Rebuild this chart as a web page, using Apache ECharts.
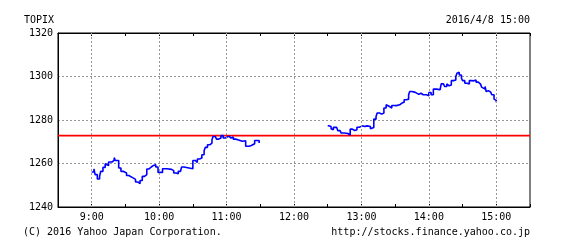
<!DOCTYPE html>
<html><head><meta charset="utf-8">
<script src="https://cdn.jsdelivr.net/npm/echarts@6/dist/echarts.min.js"></script>
<style>html,body{margin:0;padding:0;background:#fff}#c{width:567px;height:247px}</style>
</head><body><div id="c"></div>
<script>
var title = "TOPIX";
var stamp = "2016/4/8 15:00";
var copyright = "(C) 2016 Yahoo Japan Corporation.";
var source = "http://stocks.finance.yahoo.co.jp";
var prevClose = 1272.8;
var hourLines = ["9:00","10:00","11:00","12:00","13:00","14:00","15:00"];
var yTicks = [1240, 1260, 1280, 1300, 1320];

var amTimes = ["9:00","9:02","9:03","9:05","9:07","9:08","9:10","9:12","9:13","9:15","9:18","9:20","9:21","9:24","9:26","9:28","9:31","9:33","9:36","9:39","9:41","9:43","9:45","9:47","9:49","9:51","9:53","9:55","9:57","9:59","10:03","10:07","10:11","10:13","10:15","10:17","10:19","10:20","10:22","10:30","10:32","10:34","10:36","10:38","10:40","10:41","10:43","10:45","10:47","10:48","10:50","10:51","10:53","10:55","10:57","10:59","11:00","11:02","11:04","11:06","11:08","11:10","11:14","11:17","11:20","11:22","11:25","11:27","11:29"];
var amValues = [1256.1,1257.5,1254.9,1252.9,1254.1,1256.4,1258.2,1259.9,1259.0,1260.7,1261.4,1262.7,1261.4,1257.9,1256.4,1255.6,1254.5,1253.6,1252.7,1251.5,1250.7,1252.2,1254.1,1254.9,1257.5,1258.4,1259.1,1259.4,1258.4,1255.9,1257.6,1257.3,1256.7,1255.6,1255.3,1256.4,1257.2,1258.4,1257.6,1261.4,1260.5,1262.1,1262.5,1264.0,1265.9,1267.4,1268.6,1269.4,1270.9,1272.4,1271.7,1271.2,1271.7,1272.8,1271.7,1272.2,1272.6,1271.7,1272.2,1271.2,1270.9,1270.2,1270.5,1267.9,1268.3,1269.1,1270.6,1270.5,1269.4];
var pmTimes = ["12:30","12:31","12:33","12:34","12:35","12:38","12:39","12:41","12:42","12:45","12:48","12:50","12:52","12:54","12:56","12:58","12:59","13:01","13:03","13:05","13:08","13:09","13:11","13:13","13:14","13:16","13:18","13:20","13:22","13:23","13:25","13:27","13:29","13:31","13:34","13:36","13:38","13:40","13:42","13:43","13:45","13:46","13:48","13:51","13:53","13:55","13:56","13:58","14:00","14:02","14:04","14:07","14:10","14:11","14:13","14:14","14:16","14:17","14:18","14:20","14:22","14:24","14:25","14:26","14:27","14:29","14:30","14:32","14:34","14:36","14:38","14:40","14:42","14:44","14:46","14:47","14:48","14:50","14:51","14:52","14:53","14:55","14:56","14:58","14:59","15:00"];
var pmValues = [1277.5,1277.0,1276.0,1275.5,1276.6,1276.0,1275.1,1275.8,1274.0,1273.8,1273.1,1275.8,1275.2,1275.5,1276.7,1276.3,1277.3,1277.0,1277.3,1277.0,1276.0,1276.6,1280.4,1281.6,1283.2,1282.7,1283.2,1285.5,1287.0,1286.2,1285.5,1286.7,1286.6,1287.0,1287.8,1288.2,1289.3,1289.6,1291.6,1293.1,1293.6,1292.7,1291.8,1292.3,1291.6,1290.8,1291.6,1291.1,1292.6,1291.6,1294.2,1293.9,1294.6,1296.6,1296.9,1295.4,1296.6,1295.7,1296.1,1298.1,1298.4,1300.0,1301.5,1302.0,1300.7,1299.2,1298.1,1296.9,1296.5,1298.1,1298.0,1298.4,1297.4,1296.5,1295.7,1295.1,1294.2,1295.4,1293.1,1293.5,1292.8,1292.6,1291.6,1289.6,1289.0,1288.2];

function toMin(s){var p=s.split(":");return (+p[0])*60+(+p[1]);}
function fmt(m){var h=Math.floor(m/60),mm=m%60;return h+":"+(mm<10?"0":"")+mm;}
var hourSet = {};
hourLines.forEach(function(h){hourSet[toMin(h)]=true;});

var amData = amTimes.map(function(t,i){return [toMin(t), amValues[i]];});
var pmData = pmTimes.map(function(t,i){return [toMin(t), pmValues[i]];});

var FONT = "DejaVu Sans Mono";
var X_MIN = 510, X_MAX = 930;

var chart = echarts.init(document.getElementById('c'), null, {renderer:'canvas'});
chart.setOption({
  animation:false,
  backgroundColor:'#fff',
  grid:{left:58, top:33, width:472, height:174, show:true, borderColor:'#000', borderWidth:1, backgroundColor:'transparent'},
  xAxis:[{
    type:'value', min:X_MIN, max:X_MAX, interval:30, position:'bottom',
    axisLine:{show:true, lineStyle:{color:'#000', width:1}},
    axisTick:{show:true, inside:true, length:3, lineStyle:{color:'#000'}},
    splitLine:{show:false},
    axisLabel:{margin:5, fontFamily:FONT, fontSize:10, color:'#000',
      formatter:function(v){return hourSet[v]?fmt(v):'';}}
  },{
    type:'value', min:X_MIN, max:X_MAX, interval:30, position:'top',
    axisLine:{show:true, lineStyle:{color:'#000', width:1}},
    axisTick:{show:true, inside:true, length:3, lineStyle:{color:'#000'}},
    splitLine:{show:false}, axisLabel:{show:false}
  }],
  yAxis:{
    type:'value', min:yTicks[0], max:yTicks[yTicks.length-1], interval:20,
    axisLine:{show:true, lineStyle:{color:'#000'}},
    axisTick:{show:false},
    splitLine:{show:true, lineStyle:{color:'#999', type:[2,2], width:1}},
    axisLabel:{margin:5, fontFamily:FONT, fontSize:10, color:'#000',
      formatter:function(v){return String(v);}}
  },
  series:[{
    type:'line', data:[], silent:true,
    markLine:{silent:true, symbol:['none','none'], label:{show:false}, animation:false,
      lineStyle:{color:'#999', type:[2,2], width:1},
      data:hourLines.map(function(h){return {xAxis: toMin(h)};})}
  },{
    type:'line', silent:true, showSymbol:false, z:3,
    data:[[X_MIN, prevClose],[X_MAX, prevClose]],
    lineStyle:{color:'#ff0000', type:'solid', width:1.6},
    itemStyle:{color:'#ff0000'}
  },{
    type:'line', data:amData, step:'end', showSymbol:false, z:4,
    lineStyle:{color:'#0000ff', width:1.6}
  },{
    type:'line', data:pmData, step:'end', showSymbol:false, z:4,
    lineStyle:{color:'#0000ff', width:1.6}
  }],
  graphic:[
    {type:'text', left:24, top:15, style:{text:title, font:'10px "'+FONT+'"', fill:'#000'}},
    {type:'text', right:37, top:15, style:{text:stamp, font:'10px "'+FONT+'"', fill:'#000'}},
    {type:'text', left:23, top:227, style:{text:copyright, font:'10px "'+FONT+'"', fill:'#000'}},
    {type:'text', right:37, top:227, style:{text:source, font:'10px "'+FONT+'"', fill:'#000'}}
  ]
});
</script></body></html>
